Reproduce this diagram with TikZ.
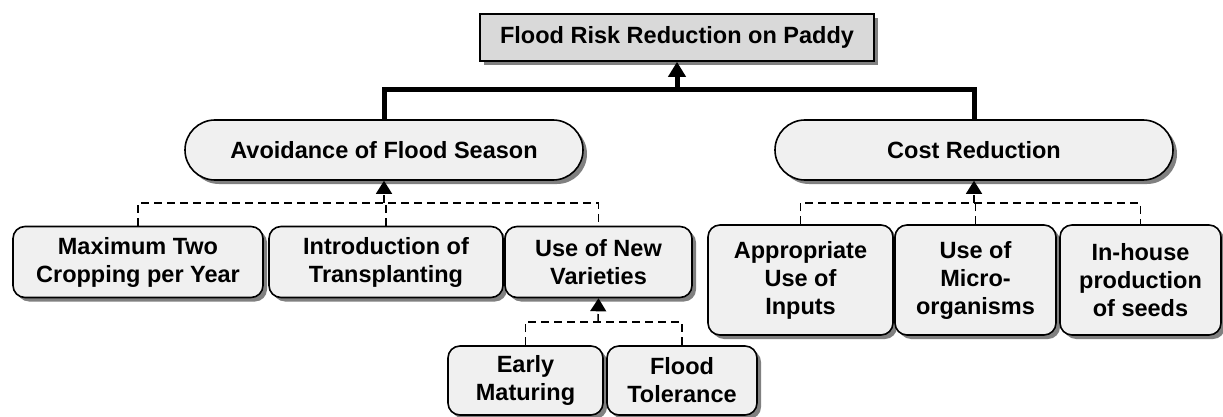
\documentclass[tikz,border=0pt]{standalone}
\usepackage{fontspec}
\setmainfont{Liberation Sans}
\usetikzlibrary{arrows.meta,shadows}
\begin{document}
\begin{tikzpicture}[x=1pt,y=-1pt,
  font=\bfseries\fontsize{23.5}{28}\selectfont,
  shade/.style={drop shadow={shadow xshift=4pt,shadow yshift=-4pt,fill=black!50,opacity=1}},
  headbox/.style={draw,line width=1.6pt,fill=black!15,inner sep=0pt,align=center,shade},
  pill/.style={draw,line width=1.6pt,fill=black!6,rounded corners=30pt,inner sep=0pt,minimum height=60pt,minimum width=398pt,align=center,shade},
  leaf/.style={draw,line width=1.6pt,fill=black!6,rounded corners=12pt,inner sep=0pt,align=center,shade},
  trunk/.style={line width=5pt},
  branch/.style={line width=1.5pt,dash pattern=on 8pt off 5pt},
  bigtip/.style={-{Triangle[width=17pt,length=15pt]}},
  smalltip/.style={-{Triangle[width=16pt,length=13pt]}}
]
\useasboundingbox (0,0) rectangle (1223,417);

% goal
\node[headbox,minimum width=394pt,minimum height=47pt] (goal) at (677,37.5) {Flood Risk Reduction on Paddy};

% strategies
\node[pill] (avoid) at (384,150) {Avoidance of Flood Season};
\node[pill] (cost) at (974,150) {Cost Reduction};

% measures for flood-season avoidance
\node[leaf,minimum width=250pt,minimum height=71pt] (maxcrop) at (138,262) {Maximum Two\\Cropping per Year};
\node[leaf,minimum width=234pt,minimum height=71pt] (transp) at (386,262) {Introduction of\\Transplanting};
\node[leaf,minimum width=187pt,minimum height=71pt] (newvar) at (598.5,262) {Use of New\\Varieties};

% kinds of new varieties
\node[leaf,minimum width=155pt,minimum height=69pt] (early) at (525.5,380.5) {Early\\Maturing};
\node[leaf,minimum width=150pt,minimum height=69pt] (toler) at (682,380.5) {Flood\\Tolerance};

% measures for cost reduction
\node[leaf,minimum width=185pt,minimum height=110pt] (inputs) at (800.5,280) {Appropriate\\Use of\\Inputs};
\node[leaf,minimum width=161pt,minimum height=110pt] (micro) at (975.5,280) {Use of\\Micro-\\organisms};
\node[leaf,minimum width=161pt,minimum height=110pt] (seeds) at (1140.5,280) {In-house\\production\\of seeds};

% junction points
\coordinate (hub) at (677,90);
\coordinate (jA) at (384,203);
\coordinate (jC) at (974,203);
\coordinate (jV) at (598,322);

% main tree
\draw[trunk] (avoid.north) |- (hub) -| (cost.north);
\draw[trunk,bigtip] (hub) -- (goal.south);

% avoidance branch
\draw[branch] (maxcrop.north) |- (jA) -| (newvar.north);
\draw[branch] (transp.north) -- (transp.north |- jA);
\draw[branch,smalltip] (jA) -- (avoid.south);

% variety branch
\draw[branch] (early.north) |- (jV) -| (toler.north);
\draw[branch,smalltip] (jV) -- (newvar.south);

% cost branch
\draw[branch] (inputs.north) |- (jC) -| (seeds.north);
\draw[branch] (micro.north) -- (micro.north |- jC);
\draw[branch,smalltip] (jC) -- (cost.south);
\end{tikzpicture}
\end{document}
